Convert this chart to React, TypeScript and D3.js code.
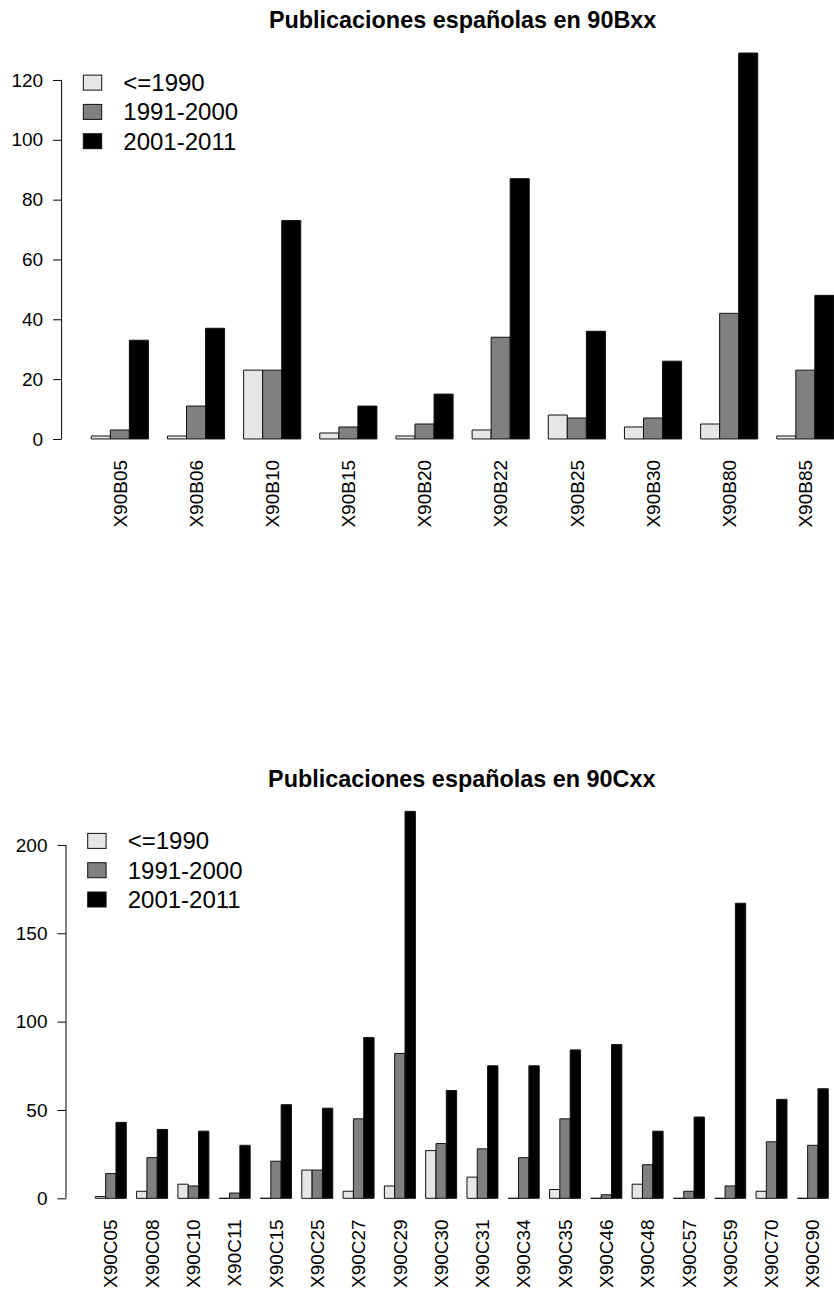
import React, {useEffect, useRef} from 'react';
import * as d3 from 'd3';

// series shared by both panels
const SERIES = ['<=1990', '1991-2000', '2001-2011'];
const FILLS = ['#e6e6e6', '#808080', '#000000'];

// 90Bxx
const catsB = ['X90B05', 'X90B06', 'X90B10', 'X90B15', 'X90B20', 'X90B22', 'X90B25', 'X90B30', 'X90B80', 'X90B85'];
const b1990 = [1, 1, 23, 2, 1, 3, 8, 4, 5, 1];
const b2000 = [3, 11, 23, 4, 5, 34, 7, 7, 42, 23];
const b2011 = [33, 37, 73, 11, 15, 87, 36, 26, 129, 48];
const ticksB = [0, 20, 40, 60, 80, 100, 120];

// 90Cxx
const catsC = ['X90C05', 'X90C08', 'X90C10', 'X90C11', 'X90C15', 'X90C25', 'X90C27', 'X90C29', 'X90C30',
    'X90C31', 'X90C34', 'X90C35', 'X90C46', 'X90C48', 'X90C57', 'X90C59', 'X90C70', 'X90C90'];
const c1990 = [1, 4, 8, 0, 0, 16, 4, 7, 27, 12, 0, 5, 0, 8, 0, 0, 4, 0];
const c2000 = [14, 23, 7, 3, 21, 16, 45, 82, 31, 28, 23, 45, 2, 19, 4, 7, 32, 30];
const c2011 = [43, 39, 38, 30, 53, 51, 91, 219, 61, 75, 75, 84, 87, 38, 46, 167, 56, 62];
const ticksC = [0, 50, 100, 150, 200];

const FONT = 'Liberation Sans, Arial, Helvetica, sans-serif';

const drawPanel = (svg, {title, cats, series, ticks, box}) => {
    const g = svg.append('g');
    const nUnits = cats.length * 4;
    const ext = 0.04 * (nUnits - 1);
    // R barplot style: 1 unit gap + 3 bars per group, 4% axis extension
    const x = d3.scaleLinear()
        .domain([1 - ext, nUnits + ext])
        .range([box.left, box.right]);
    const yMax = d3.max(series.flat());
    const y = d3.scaleLinear()
        .domain([-0.04 * yMax, yMax * 1.04])
        .range([box.bottom, box.top]);

    const bars = [];
    cats.forEach((c, gi) => {
        series.forEach((vals, si) => {
            bars.push({u: gi * 4 + 1 + si, v: vals[gi], si});
        });
    });

    g.selectAll('path.bar')
        .data(bars)
        .join('path')
        .attr('class', 'bar')
        .attr('d', d => {
            const x0 = x(d.u), x1 = x(d.u + 1), y0 = y(0), y1 = y(d.v);
            return `M${x0},${y0}H${x1}V${y1}H${x0}Z`;
        })
        .attr('fill', d => FILLS[d.si])
        .attr('stroke', '#111')
        .attr('stroke-width', 1);

    // y axis, line only between first and last tick
    const axis = g.append('g')
        .attr('transform', `translate(${box.left},0)`)
        .call(d3.axisLeft(y).tickValues(ticks).tickSize(8.5).tickPadding(10));
    axis.select('.domain').remove();
    axis.append('line')
        .attr('y1', y(ticks[0]))
        .attr('y2', y(ticks[ticks.length - 1]))
        .attr('stroke', '#000');
    axis.selectAll('text')
        .attr('font-size', 19)
        .attr('font-family', FONT)
        .attr('fill', '#000');

    // category labels, vertical
    g.selectAll('text.cat')
        .data(cats)
        .join('text')
        .attr('class', 'cat')
        .attr('transform', (d, i) => `translate(${x(i * 4 + 2.5)},${y(0) + 21}) rotate(-90)`)
        .attr('text-anchor', 'end')
        .attr('dy', '0.35em')
        .attr('font-size', 19)
        .attr('font-family', FONT)
        .text(d => d);

    g.append('text')
        .attr('x', (box.left + box.right) / 2)
        .attr('y', box.top - 9.3)
        .attr('text-anchor', 'middle')
        .attr('font-size', 23.4)
        .attr('font-weight', 'bold')
        .attr('font-family', FONT)
        .text(title);

    const lg = g.append('g')
        .attr('transform', `translate(${box.left + 21.7},${box.top + 45})`);
    const rows = lg.selectAll('g')
        .data(SERIES)
        .join('g')
        .attr('transform', (d, i) => `translate(0,${i * 29.3})`);
    rows.append('rect')
        .attr('x', 0)
        .attr('y', -7.5)
        .attr('width', 18.4)
        .attr('height', 15)
        .attr('fill', (d, i) => FILLS[i])
        .attr('stroke', '#111');
    rows.append('text')
        .attr('x', 40)
        .attr('dy', '0.35em')
        .attr('font-size', 24)
        .attr('font-family', FONT)
        .text(d => d);
};

const App = () => {
    const svgRef = useRef(null);

    useEffect(() => {
        const svg = d3.select(svgRef.current);
        svg.selectAll('*').remove();

        drawPanel(svg, {
            title: 'Publicaciones españolas en 90Bxx',
            cats: catsB,
            series: [b1990, b2000, b2011],
            ticks: ticksB,
            box: {left: 61.6, right: 863.6, top: 37.6, bottom: 454.4}
        });

        drawPanel(svg, {
            title: 'Publicaciones españolas en 90Cxx',
            cats: catsC,
            series: [c1990, c2000, c2011],
            ticks: ticksC,
            box: {left: 66, right: 857.6, top: 795.9, bottom: 1213.8}
        });
    }, []);

    return (
        <svg ref={svgRef} width={834} height={1290}
             style={{position: 'absolute', left: 0, top: 0, background: '#fff'}}/>
    );
};

export default App;
